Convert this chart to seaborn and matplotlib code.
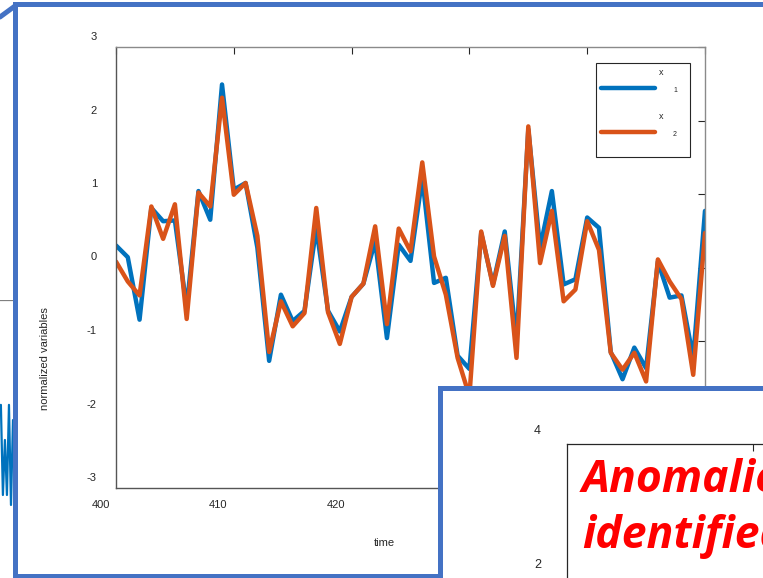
import numpy as np
import pandas as pd
import matplotlib
matplotlib.use("Agg")
import matplotlib.pyplot as plt
import matplotlib.transforms as mtransforms
from matplotlib.patches import Rectangle
from matplotlib.lines import Line2D
import seaborn as sns

# ---- data -------------------------------------------------------------
time = np.arange(400, 451)
x1 = [0.30, 0.14, -0.71, 0.81, 0.63, 0.64, -0.55, 1.04, 0.65, 2.49,
      1.06, 1.15, 0.27, -1.27, -0.37, -0.73, -0.59, 0.54, -0.59, -0.87,
      -0.40, -0.22, 0.36, -0.96, 0.31, 0.09, 1.22, -0.21, -0.14, -1.20,
      -1.38, 0.47, -0.23, 0.49, -1.00, 1.88, 0.27, 1.04, -0.23, -0.16,
      0.68, 0.54, -1.15, -1.52, -1.09, -1.37, 0.08, -0.41, -0.38, -1.23,
      0.77]
x2 = [0.08, -0.19, -0.38, 0.83, 0.39, 0.86, -0.70, 1.02, 0.83, 2.31,
      0.99, 1.15, 0.43, -1.15, -0.46, -0.80, -0.62, 0.81, -0.61, -1.04,
      -0.40, -0.22, 0.56, -0.77, 0.53, 0.22, 1.43, 0.15, -0.37, -1.23,
      -1.75, 0.49, -0.25, 0.43, -1.23, 1.92, 0.06, 0.77, -0.46, -0.30,
      0.63, 0.24, -1.16, -1.39, -1.16, -1.55, 0.11, -0.19, -0.43, -1.46,
      0.47]
series_names = ["x1", "x2"]
series_colors = ["#0072BD", "#D95319"]
legend_main = ["x", "x"]
legend_sub = ["1", "2"]

xticks = [400, 410, 420, 430, 440, 450]
xtick_labels = ["400", "410", "420", "430", "440", "450"]
yticks = [-3, -2, -1, 0, 1, 2, 3]
ytick_labels = ["-3", "-2", "-1", "0", "1", "2", "3"]

# second panel (partly visible)
panel_yticks = [0, 2, 4]
panel_ytick_labels = ["0", "2", "4"]
panel_xticks = [410, 420, 430, 440, 450]
note_lines = ["Anomalies", "identified"]

# fragment of a signal from a figure further back
bg_t = [44, 45, 46, 47, 48, 49, 50]
bg_v = [0.58, -1.50, -0.23, -1.50, 0.58, -1.73, 0.23]

# ---- figure -----------------------------------------------------------
W, H, DPI = 763, 578, 100
sns.set_style("white")
plt.rcParams["font.family"] = ["Liberation Sans", "DejaVu Sans"]
fig = plt.figure(figsize=(W / DPI, H / DPI), dpi=DPI, facecolor="white")


def px_rect(x0, y0, x1, y1):
    return [x0 / W, 1 - y1 / H, (x1 - x0) / W, (y1 - y0) / H]


def px_shift(dx, dy):
    return mtransforms.ScaledTranslation(dx / DPI, -dy / DPI, fig.dpi_scale_trans)


FRAME = "#4472C4"
INK = "#262626"

# background figure fragment
ax_bg = fig.add_axes(px_rect(-88, 300, 13, 560))
ax_bg.set_zorder(0)
sns.lineplot(x=bg_t, y=bg_v, color="#0072BD", linewidth=1.6, ax=ax_bg)
ax_bg.set_xlim(0, 50)
ax_bg.set_ylim(-3, 3)
ax_bg.set_axis_off()
ax_bg.add_line(Line2D([0, 1], [1, 1], transform=ax_bg.transAxes,
                      color="#808080", lw=0.9))

# first slide frame
fig.add_artist(Line2D([0, 15 / W], [1 - 17 / H, 1 - 6 / H], color=FRAME,
                      lw=3.6, transform=fig.transFigure, zorder=1))
fig.add_artist(Rectangle((15 / W, 1 - 575.8 / H), (1100 - 15) / W,
                         (575.8 - 4.2) / H, transform=fig.transFigure,
                         facecolor="white", edgecolor=FRAME, lw=3.6, zorder=1))

# ---- main chart -------------------------------------------------------
ax = fig.add_axes(px_rect(116, 47, 705, 488))
ax.set_zorder(2)
df = pd.DataFrame({
    "time": np.concatenate([time, time]),
    "value": np.concatenate([x1, x2]),
    "series": np.repeat(series_names, len(time)),
})
sns.lineplot(data=df, x="time", y="value", hue="series",
             palette=series_colors, linewidth=3.2, legend=False, ax=ax)
ax.set_xlim(400, 450)
ax.set_ylim(-3, 3)
ax.set_xticks(xticks)
ax.set_xticklabels(xtick_labels)
ax.set_yticks(yticks)
ax.set_yticklabels(ytick_labels)
ax.tick_params(direction="in", length=5, width=0.8, color=INK,
               labelcolor=INK, labelsize=8, top=True, right=True)
ax.tick_params(axis="x", pad=8.6)
ax.tick_params(axis="y", pad=13.7)
for lbl in ax.get_xticklabels():
    lbl.set_transform(lbl.get_transform() + px_shift(-15.5, 0))
for lbl in ax.get_yticklabels():
    lbl.set_transform(lbl.get_transform() + px_shift(0, -11))
for side, sp in ax.spines.items():
    sp.set_visible(True)
    sp.set_linewidth(1.0)
    sp.set_color("#555555" if side in ("left", "bottom") else "#8a8a8a")

ax.set_xlabel("time", fontsize=8, color=INK, va="center")
ax.xaxis.set_label_coords((384 - 116) / 589, (488 - 543) / 441)
ax.set_ylabel("normalized variables", fontsize=8, color=INK, va="center")
ax.yaxis.set_label_coords((45 - 116) / 589, (488 - 359) / 441)

# legend: sample lines in a framed box, labels written beside them
LEG_PX = 42.5  # legend font size in pixels, sets the box geometry
handles = [Line2D([], [], color=c, lw=3.2) for c in series_colors]
leg = ax.legend(handles, ["", ""], loc="upper left",
                bbox_to_anchor=((596 - 116) / 589, (488 - 63) / 441),
                borderaxespad=0, fontsize=LEG_PX * 72 / DPI,
                handlelength=54 / LEG_PX, handleheight=0.1,
                labelspacing=4 / LEG_PX, borderpad=5 / LEG_PX,
                handletextpad=30 / LEG_PX, frameon=True, fancybox=False,
                edgecolor=INK, framealpha=1)
leg.get_frame().set_linewidth(0.8)
for k, (m, s) in enumerate(zip(legend_main, legend_sub)):
    ym = 72.5 + 44 * k
    ax.text((661.5 - 116) / 589, (488 - ym) / 441, m, transform=ax.transAxes,
            fontsize=6.5, ha="center", va="center", color=INK, zorder=7)
    ax.text((675 - 116) / 589, (488 - ym - 18) / 441, s, transform=ax.transAxes,
            fontsize=5, ha="center", va="center", color=INK, zorder=7)

# ---- second slide frame with its chart --------------------------------
fig.add_artist(Rectangle((439.5 / W, 1 - 1100 / H), (1300 - 439.5) / W,
                         (1100 - 387.5) / H, transform=fig.transFigure,
                         facecolor="white", edgecolor=FRAME, lw=3.6, zorder=3))

ax2 = fig.add_axes(px_rect(567, 444, 1497, 980))
ax2.set_zorder(4)
ax2.patch.set_alpha(0)
ax2.set_xlim(400, 450)
ax2.set_ylim(-4, 4)
ax2.set_xticks(panel_xticks)
ax2.set_yticks(panel_yticks)
ax2.set_yticklabels(panel_ytick_labels)
ax2.tick_params(direction="in", length=5, width=0.8, color=INK,
                labelcolor=INK, labelsize=9, top=True, bottom=False,
                right=False, labelbottom=False)
ax2.tick_params(axis="y", pad=18.7)
for lbl in ax2.get_yticklabels():
    lbl.set_transform(lbl.get_transform() + px_shift(0, -15))
for side, sp in ax2.spines.items():
    sp.set_visible(side in ("left", "top"))
    sp.set_color(INK)
    sp.set_linewidth(0.9)

for k, line in enumerate(note_lines):
    fig.text(582 / W, 1 - (492 + 56 * k) / H, line, color="#FF0000",
             fontsize=32, fontweight="bold", fontstyle="italic",
             family=["Open Sans", "Lato", "DejaVu Sans"],
             ha="left", va="baseline", zorder=6)

fig.savefig("out.png", dpi=DPI, facecolor="white")
